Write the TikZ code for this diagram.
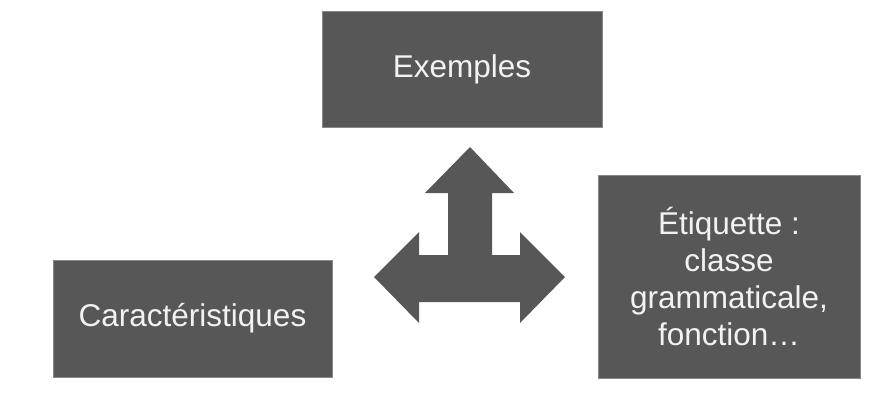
\documentclass[tikz,border=0pt]{standalone}
\usepackage{fontspec}
\setmainfont{Liberation Sans}
\usetikzlibrary{positioning}
\definecolor{boxgray}{HTML}{575757}
\definecolor{txtgray}{HTML}{F2F2F2}
\tikzset{
    block/.style = {fill=boxgray, draw=boxgray!70!white, line width=0.8pt, text=txtgray, align=center,
        font=\fontsize{31.5}{37}\selectfont, inner sep=0pt},
}

\begin{document}
\begin{tikzpicture}[x=1pt,y=-1pt]
\useasboundingbox (0,0) rectangle (895,400);

\node[block, minimum width=280pt, minimum height=116pt](ex) at (462,69) {Exemples};
\node[block, minimum width=279pt, minimum height=117pt](car) at (192.5,318.5) {Caractéristiques};
\node[block, minimum width=262pt, minimum height=203pt](eti) at (729,276.5) {Étiquette :\\classe\\grammaticale,\\fonction…};

% three way arrow
\fill[boxgray](470,147) -- (514,193) -- (492,193) -- (492,255) -- (520,255) -- (520,232) -- (565,277) -- (520,323) -- (520,302)
  -- (419,302) -- (419,323) -- (374,277) -- (419,232) -- (419,255) -- (448,255) -- (448,193) -- (425,193) -- cycle;

\end{tikzpicture}
\end{document}
